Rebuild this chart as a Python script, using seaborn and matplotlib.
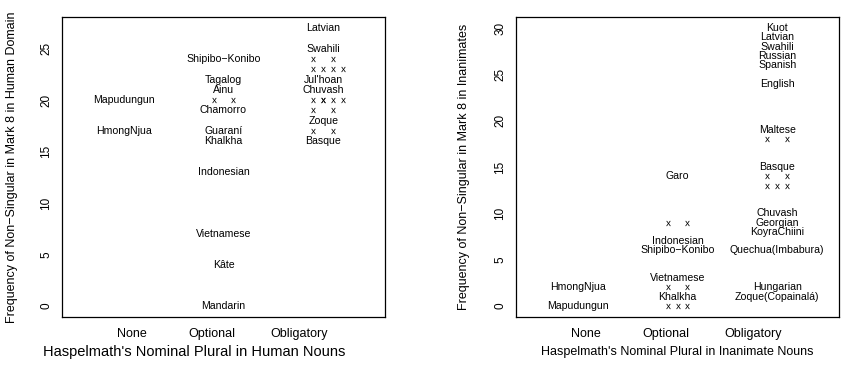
import numpy as np
import pandas as pd
import matplotlib
matplotlib.use("Agg")
import matplotlib.pyplot as plt
import seaborn as sns

# plural categories (x positions 1, 2, 3)
categories = ["None", "Optional", "Obligatory"]

# ---- human domain: labelled languages
human_cat = ["None", "None",
             "Optional", "Optional", "Optional", "Optional", "Optional", "Optional",
             "Optional", "Optional", "Optional", "Optional",
             "Obligatory", "Obligatory", "Obligatory", "Obligatory", "Obligatory",
             "Obligatory"]
human_val = [20, 17,
             24, 22, 21, 19, 17, 16, 13, 7, 4, 0,
             27, 25, 22, 21, 18, 16]
human_lang = ["Mapudungun", "HmongNjua",
              "Shipibo\u2212Konibo", "Tagalog", "Ainu", "Chamorro", "Guaraní",
              "Khalkha", "Indonesian", "Vietnamese", "Kâte", "Mandarin",
              "Latvian", "Swahili", "Jul'hoan", "Chuvash", "Zoque", "Basque"]
# unlabelled languages sharing a value (drawn as x)
human_x_cat = ["Optional", "Obligatory", "Obligatory", "Obligatory", "Obligatory", "Obligatory"]
human_x_val = [20, 24, 23, 20, 19, 17]
human_x_n = [2, 2, 4, 5, 2, 2]

# ---- inanimates: labelled languages
inan_cat = ["None", "None",
            "Optional", "Optional", "Optional", "Optional", "Optional",
            "Obligatory", "Obligatory", "Obligatory", "Obligatory", "Obligatory",
            "Obligatory", "Obligatory", "Obligatory", "Obligatory", "Obligatory",
            "Obligatory", "Obligatory", "Obligatory", "Obligatory"]
inan_val = [2, 0,
            14, 7, 6, 3, 1,
            30, 29, 28, 27, 26, 24, 19, 15, 10, 9, 8, 6, 2, 1]
inan_lang = ["HmongNjua", "Mapudungun",
             "Garo", "Indonesian", "Shipibo\u2212Konibo", "Vietnamese", "Khalkha",
             "Kuot", "Latvian", "Swahili", "Russian", "Spanish", "English",
             "Maltese", "Basque", "Chuvash", "Georgian", "KoyraChiini",
             "Quechua(Imbabura)", "Hungarian", "Zoque(Copainalá)"]
inan_x_cat = ["Optional", "Optional", "Optional", "Obligatory", "Obligatory", "Obligatory"]
inan_x_val = [9, 2, 0, 18, 14, 13]
inan_x_n = [2, 2, 3, 2, 2, 3]

# tick label positions as in the original figure
tick_pos = [1.08, 1.88, 2.76]

slots = {2: [-1, 1], 3: [-1, 0, 1], 4: [-1, 0, 1, 2], 5: [-1, 0, 0, 1, 2]}


def x_points(cats, vals, ns):
    rows = []
    for c, v, n in zip(cats, vals, ns):
        for s in slots[n]:
            rows.append({"x": categories.index(c) + 1 + 0.1 * s, "y": v})
    return pd.DataFrame(rows)


def draw_panel(ax, cats, vals, langs, xc, xv, xn, ymax, yticks, xlabel, ylabel):
    pts = x_points(xc, xv, xn)
    sns.scatterplot(data=pts, x="x", y="y", ax=ax, marker="$\\mathregular{x}$",
                    s=14, color="black", linewidth=0, legend=False)
    for c, v, name in zip(cats, vals, langs):
        ax.text(categories.index(c) + 1, v, name, ha="center", va="center",
                fontsize=7.6, color="black")
    pad = 0.04 * ymax
    ax.set_ylim(-pad, ymax + pad)
    ax.set_xlim(0.38, 3.62)
    ax.set_yticks(yticks)
    ax.set_yticklabels([str(t) for t in yticks], rotation=90, va="center")
    ax.set_xticks(tick_pos)
    ax.set_xticklabels(categories)
    ax.tick_params(axis="x", length=0, pad=8, labelsize=9, colors="black")
    ax.tick_params(axis="y", length=5, width=0.8, pad=2, labelsize=8.5, colors="black")
    ax.set_xlabel(xlabel, fontsize=9, color="black")
    ax.set_ylabel(ylabel, fontsize=9, color="black")
    ax.xaxis.set_label_coords(0.5, -0.117)
    ax.xaxis.label.set_va("center")
    for sp in ax.spines.values():
        sp.set_visible(True)
        sp.set_color("black")
        sp.set_linewidth(0.9)


sns.set_style("white")
plt.rcParams["font.family"] = ["Liberation Sans", "DejaVu Sans"]

fig = plt.figure(figsize=(8.44, 3.69), dpi=100)
ax1 = fig.add_axes([62 / 844, 52 / 369, 323 / 844, 300 / 369])
ax2 = fig.add_axes([516 / 844, 52 / 369, 323 / 844, 300 / 369])

draw_panel(ax1, human_cat, human_val, human_lang, human_x_cat, human_x_val, human_x_n,
           27, [0, 5, 10, 15, 20, 25],
           "Haspelmath's Nominal Plural in Human Nouns",
           "Frequency of Non\u2212Singular in Mark 8 in Human Domain")
draw_panel(ax2, inan_cat, inan_val, inan_lang, inan_x_cat, inan_x_val, inan_x_n,
           30, [0, 5, 10, 15, 20, 25, 30],
           "Haspelmath's Nominal Plural in Inanimate Nouns",
           "Frequency of Non\u2212Singular in Mark 8 in Inanimates")
ax1.yaxis.set_label_coords(-0.136, 0.5)
ax2.yaxis.set_label_coords(-0.142, 0.5)
# the left x label is set a little larger and further left in the original
ax1.xaxis.label.set_fontsize(10.5)
ax1.xaxis.set_label_coords(0.41, -0.117)

fig.savefig("out.png", dpi=100)
